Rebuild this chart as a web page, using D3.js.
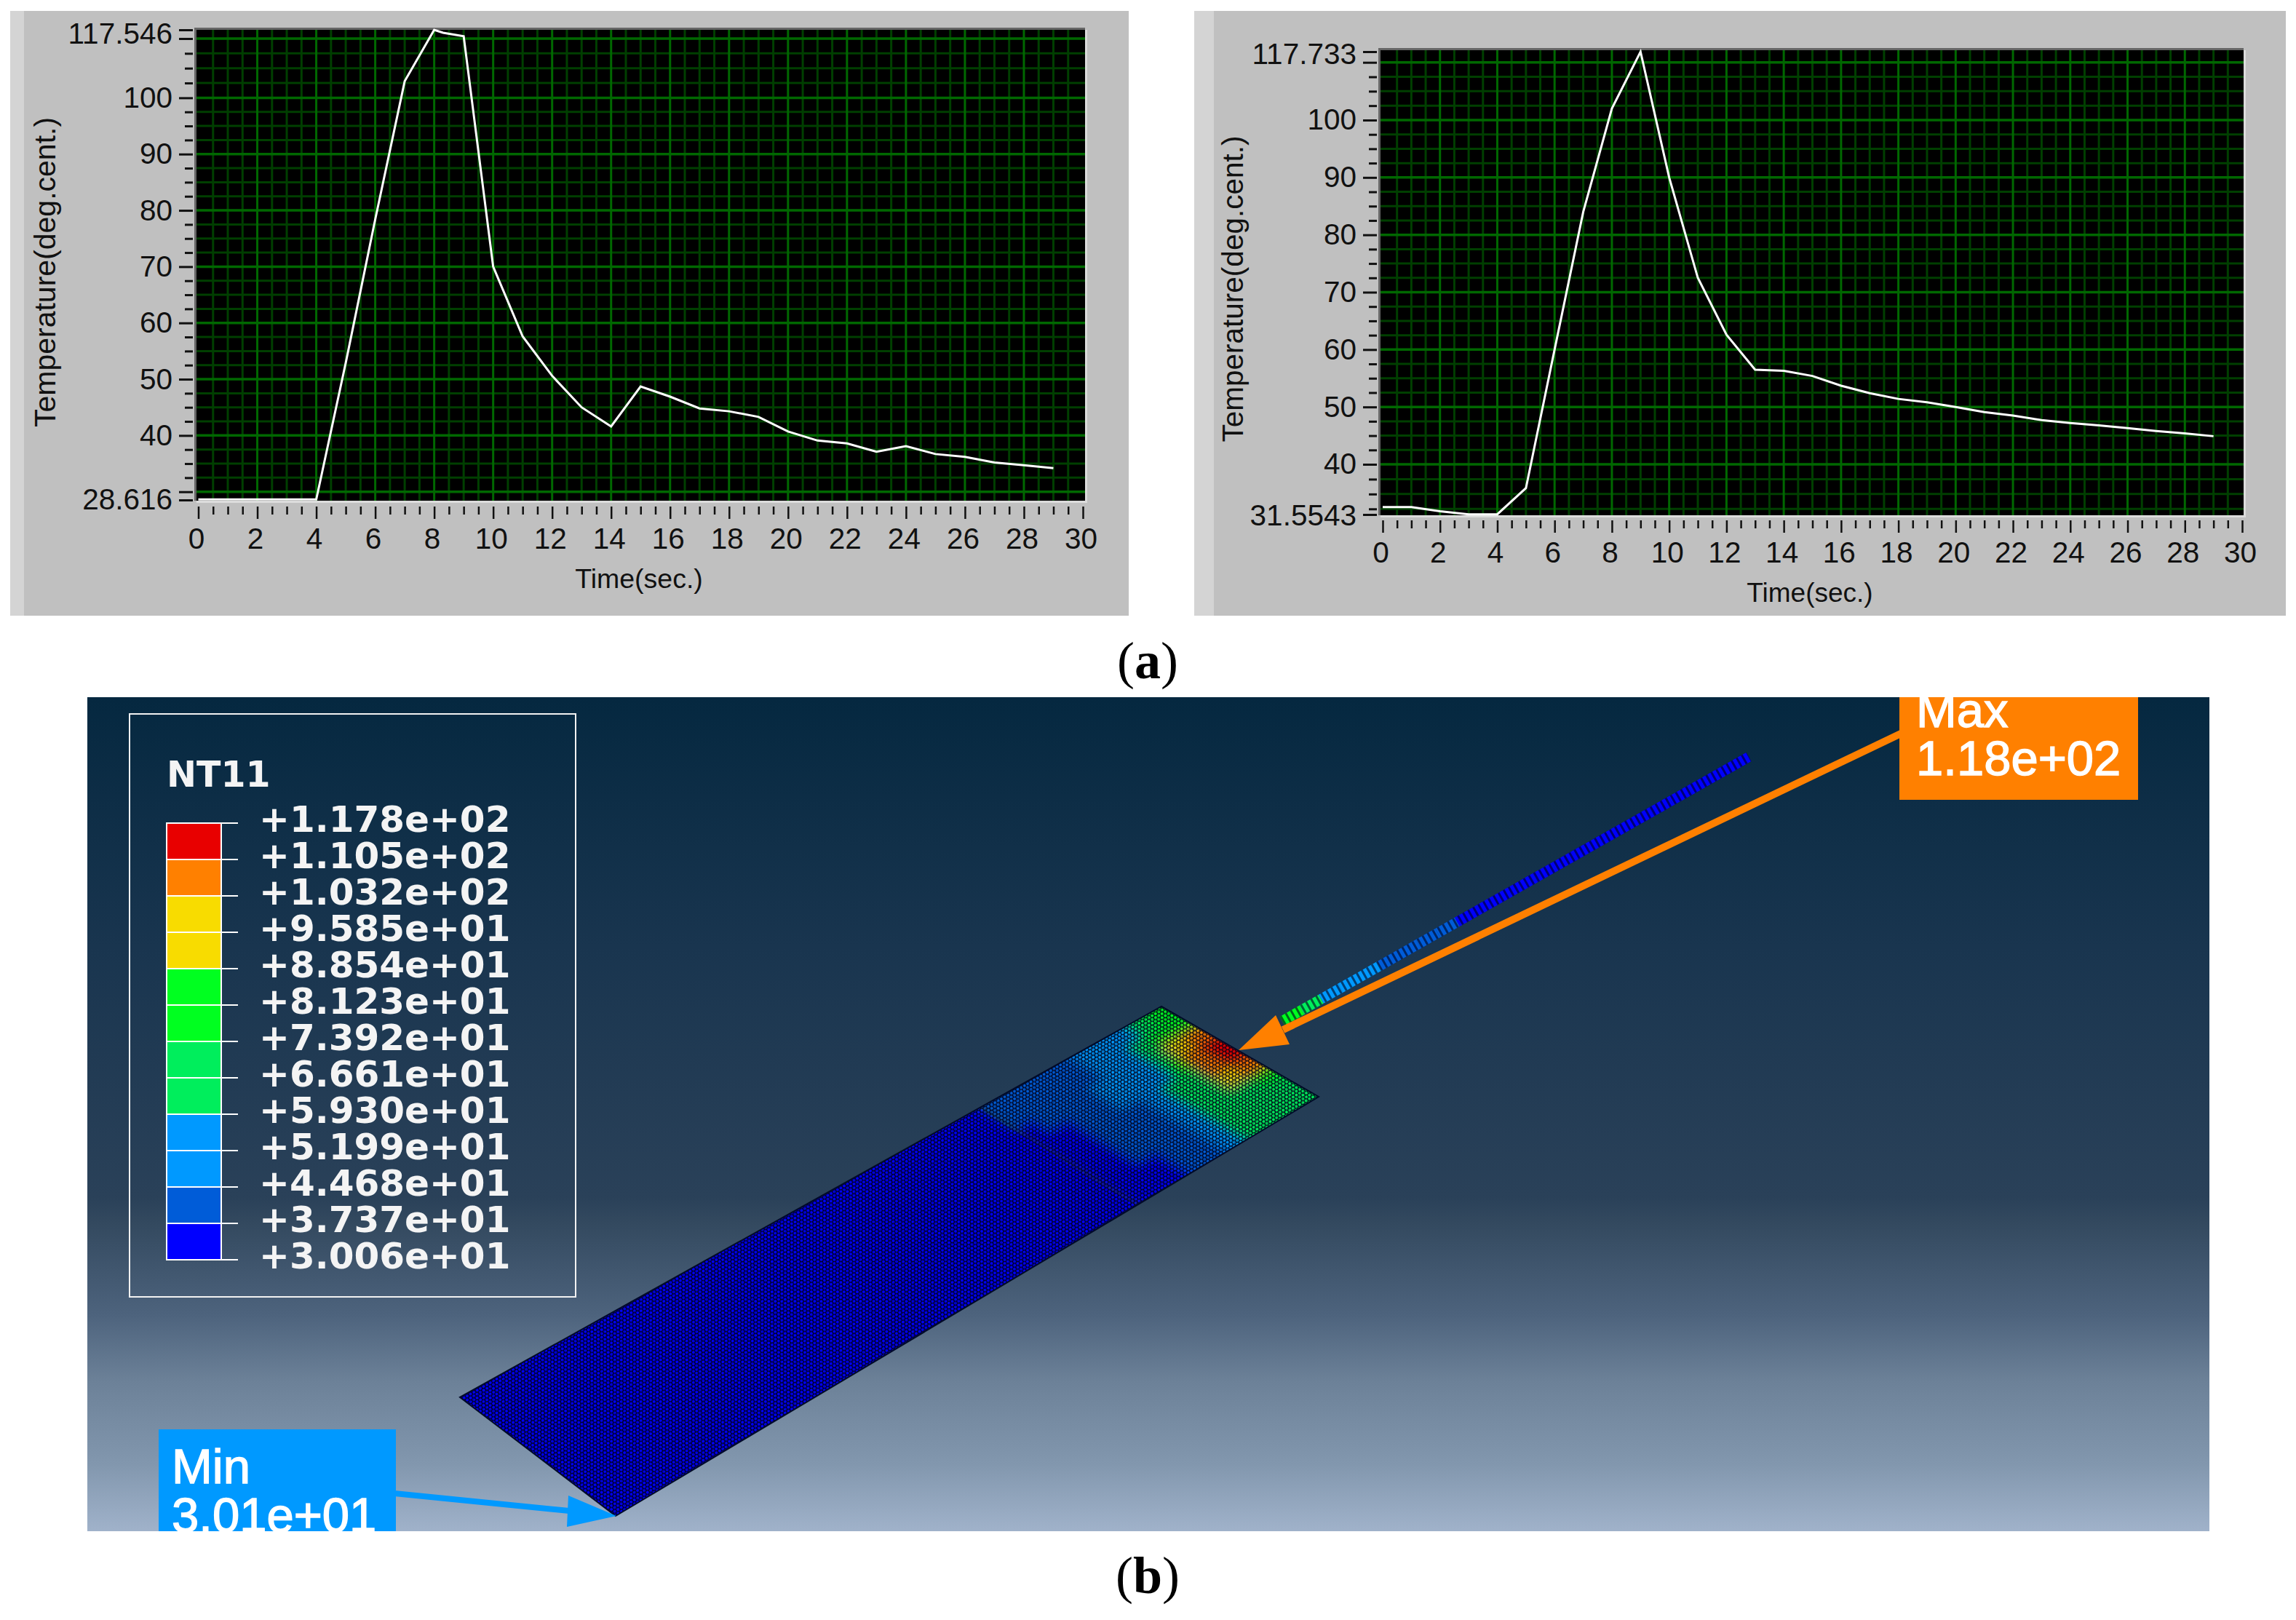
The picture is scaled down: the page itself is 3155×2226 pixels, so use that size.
<!DOCTYPE html>
<html>
<head>
<meta charset="utf-8">
<script src="https://cdn.jsdelivr.net/npm/d3@7"></script>
<style>
body { margin: 0; background: #fff; }
text { font-family: "Liberation Sans", Arial, sans-serif; }
</style>
</head>
<body>
<svg id="chart"></svg>
<script>
const width = 3155;
const height = 2226;

// temperature curves
const timesLeft = [0, 1, 2, 3, 4, 5, 6, 7, 8, 8.3, 9, 10, 11, 12, 13, 14, 15, 16, 17, 18, 19, 20, 21, 22, 23, 24, 25, 26, 27, 28, 29];
const tempsLeft = [28.7, 28.7, 28.7, 28.7, 28.7, 52.9, 78.4, 102.8, 117.5, 115, 112, 70, 57.6, 50.6, 45, 41.6, 48.7, 46.9, 44.8, 44.3, 43.3, 40.7, 39.1, 38.6, 37.1, 38.1, 36.7, 36.2, 35.2, 34.7, 34.2];
const timesRight = [0, 1, 2, 3, 4, 5, 6, 7, 8, 9, 10, 11, 12, 13, 14, 15, 16, 17, 18, 19, 20, 21, 22, 23, 24, 25, 26, 27, 28, 29];
const tempsRight = [32.8, 32.8, 32.1, 31.6, 31.6, 36, 60, 84, 102, 117.7, 90, 72.5, 62.6, 56.5, 56.3, 55.4, 53.7, 52.4, 51.4, 50.8, 50, 49.1, 48.5, 47.7, 47.2, 46.8, 46.3, 45.8, 45.4, 44.9];

const xMajor = [0, 2, 4, 6, 8, 10, 12, 14, 16, 18, 20, 22, 24, 26, 28, 30];
const xMinor = d3.range(0, 30.5, 0.5).filter(d => d % 2 !== 0);
const yMajorLeft = [30, 40, 50, 60, 70, 80, 90, 100, 110];
const yMajorRight = [40, 50, 60, 70, 80, 90, 100, 110];
const yMinorLeft = d3.range(30, 110, 2.5).filter(d => d % 10 !== 0);
const yMinorRight = d3.range(32.5, 110, 2.5).filter(d => d % 10 !== 0);
const yLabelled = [40, 50, 60, 70, 80, 90, 100];

// contour legend, top to bottom
const legendLabels = ['+1.178e+02', '+1.105e+02', '+1.032e+02', '+9.585e+01', '+8.854e+01', '+8.123e+01', '+7.392e+01', '+6.661e+01', '+5.930e+01', '+5.199e+01', '+4.468e+01', '+3.737e+01', '+3.006e+01'];
const legendValues = [117.8, 110.5, 103.2, 95.85, 88.54, 81.23, 73.92, 66.61, 59.30, 51.99, 44.68, 37.37, 30.06];
const cellColors = ['#e80000', '#ff8000', '#f8dc00', '#f8dc00', '#00ff20', '#00ff20', '#00ee5c', '#00ee5c', '#0099ff', '#0099ff', '#005cd8', '#0000ff'];

// plate temperatures in the heated end: rows across the plate, columns along it
const heatTemps = [
    [35, 36, 37, 40, 44, 50, 60, 64, 68, 70],
    [35, 36, 37, 40, 44, 50, 60, 64, 68, 72],
    [35, 36, 38, 41, 44, 50, 60, 66, 72, 82],
    [36, 37, 38, 41, 44, 50, 60, 70, 92, 104],
    [36, 37, 38, 41, 44, 50, 60, 72, 106, 112],
    [36, 37, 38, 42, 45, 50, 58, 74, 108, 117],
    [37, 38, 39, 42, 45, 50, 56, 70, 90, 104],
    [38, 39, 40, 42, 44, 48, 54, 64, 74, 80],
    [40, 40, 41, 42, 43, 46, 52, 58, 68, 74]
];
const coldTemp = 30.06;
// stick temperatures from the plate out to the free end
const rodTemps = [75, 60, 52, 50, 47, 44, 42, 40, 38, 36, 34, 32, 31, 31, 30, 30, 30, 30, 30, 30, 30, 30, 30, 30];

const svg = d3.select('#chart').attr('width', width).attr('height', height);
const defs = svg.append('defs');

function drawGraph(o) {
    const g = svg.append('g');
    g.append('rect').attr('x', o.left).attr('y', o.top).attr('width', o.right - o.left).attr('height', o.bottom - o.top).attr('fill', '#c0c0c0');
    g.append('rect').attr('x', o.left).attr('y', o.top).attr('width', o.band).attr('height', o.bottom - o.top).attr('fill', '#d4d4d4');

    const x = d3.scaleLinear().domain([0, 30]).range(o.xRange);
    const y = d3.scaleLinear().domain(o.yDomain).range(o.yRange);
    const [pl, pr, pt, pb] = o.plot;

    g.append('rect').attr('x', pl).attr('y', pt).attr('width', pr - pl).attr('height', pb - pt).attr('fill', '#000');

    // grid, minor lines first
    const grid = g.append('g');
    grid.append('g').selectAll('line').data(o.yMinor).join('line').attr('x1', pl).attr('x2', pr).attr('y1', y).attr('y2', y).attr('stroke', '#003f00').attr('stroke-width', 3);
    grid.append('g').selectAll('line').data(xMinor).join('line').attr('x1', x).attr('x2', x).attr('y1', pt).attr('y2', pb).attr('stroke', '#003f00').attr('stroke-width', 3);
    grid.append('g').selectAll('line').data(o.yMajor).join('line').attr('x1', pl).attr('x2', pr).attr('y1', y).attr('y2', y).attr('stroke', '#006800').attr('stroke-width', 3.5);
    grid.append('g').selectAll('line').data(xMajor.slice(1, -1)).join('line').attr('x1', x).attr('x2', x).attr('y1', pt).attr('y2', pb).attr('stroke', '#006800').attr('stroke-width', 3);

    // bevel round the plot
    g.append('path').attr('d', `M${pl - 1.5},${pb} V${pt - 1.5} H${pr}`).attr('fill', 'none').attr('stroke', '#666').attr('stroke-width', 3);
    g.append('path').attr('d', `M${pl},${pb + 1.5} H${pr + 1.5} V${pt}`).attr('fill', 'none').attr('stroke', '#dcdcdc').attr('stroke-width', 3);

    const line = d3.line().x((d, i) => x(o.times[i])).y(d => y(d));
    g.append('path').datum(o.temps).attr('d', line).attr('fill', 'none').attr('stroke', '#fff').attr('stroke-width', 3);

    // y axis
    const yMajorAxis = d3.axisLeft(y).tickValues([...o.yMajor, o.yDomain[0], o.yDomain[o.yDomain.length - 1]])
        .tickSize(19).tickPadding(9)
        .tickFormat(d => yLabelled.includes(d) ? d : (d === o.yDomain[0] ? o.bottomLabel : (d === o.yDomain[o.yDomain.length - 1] ? o.topLabel : '')));
    const yAxisG = g.append('g').attr('transform', `translate(${o.yAxisX},0)`).call(yMajorAxis);
    const yMinorG = g.append('g').attr('transform', `translate(${o.yAxisX},0)`).call(d3.axisLeft(y).tickValues(o.yMinor).tickSize(11).tickFormat(''));

    // x axis
    const xAxisG = g.append('g').attr('transform', `translate(0,${o.xAxisY})`).call(d3.axisBottom(x).tickValues(xMajor).tickSize(17));
    const xMinorG = g.append('g').attr('transform', `translate(0,${o.xAxisY})`).call(d3.axisBottom(x).tickValues(xMinor).tickSize(11).tickFormat(''));

    [yAxisG, yMinorG, xAxisG, xMinorG].forEach(a => {
        a.select('.domain').remove();
        a.selectAll('text').attr('fill', '#111').style('font-size', '40.5px').style('font-family', '"Liberation Sans", Arial, sans-serif');
    });
    [yAxisG, yMinorG].forEach(a => a.selectAll('line').attr('stroke', '#111').attr('stroke-width', 3));
    [xAxisG, xMinorG].forEach(a => a.selectAll('line').attr('stroke', '#111').attr('stroke-width', 2.5));
    // the end labels sit a little off their tick marks
    yAxisG.selectAll('text').filter(d => d === o.yDomain[o.yDomain.length - 1]).attr('dy', o.topDy);
    yAxisG.selectAll('text').filter(d => d === o.yDomain[0]).attr('dy', o.bottomDy);
    xAxisG.selectAll('text').attr('y', 58).attr('dy', 0).attr('dx', -3);

    g.append('text').attr('x', o.xLabelX).attr('y', o.xLabelY).attr('text-anchor', 'middle').attr('font-size', o.xLabelSize).attr('fill', '#111').text('Time(sec.)');
    g.append('text').attr('transform', `translate(${o.yLabelX},${o.yLabelY}) rotate(-90)`).attr('text-anchor', 'middle').attr('font-size', o.yLabelSize).attr('fill', '#111').text('Temperature(deg.cent.)');
}

drawGraph({
    left: 14, right: 1551, top: 15, bottom: 846, band: 19,
    plot: [270, 1491, 41, 688],
    xRange: [272.5, 1488],
    yDomain: [28.616, 30, 100, 110, 117.546], yRange: [687, 675.7, 134.4, 53, 41],
    yMajor: yMajorLeft, yMinor: yMinorLeft,
    times: timesLeft, temps: tempsLeft,
    yAxisX: 265, xAxisY: 696,
    topLabel: '117.546', bottomLabel: '28.616', topDy: '0.45em', bottomDy: '0.3em',
    xLabelX: 878, xLabelY: 808, xLabelSize: 37.5,
    yLabelX: 76, yLabelY: 374, yLabelSize: 41
});
drawGraph({
    left: 1641, right: 3141, top: 15, bottom: 846, band: 27,
    plot: [1897, 3083, 69, 708],
    xRange: [1900, 3081],
    yDomain: [31.5543, 40, 100, 110, 117.733], yRange: [707, 638, 165, 85.7, 71],
    yMajor: yMajorRight, yMinor: yMinorRight,
    times: timesRight, temps: tempsRight,
    yAxisX: 1892, xAxisY: 715,
    topLabel: '117.733', bottomLabel: '31.5543', topDy: '0.4em', bottomDy: '0.35em',
    xLabelX: 2487, xLabelY: 827, xLabelSize: 37,
    yLabelX: 1708, yLabelY: 397, yLabelSize: 40.5
});

// sub-figure captions
function caption(letter, y) {
    const t = svg.append('text').attr('x', 1577).attr('y', y).attr('text-anchor', 'middle').attr('font-size', 72).attr('fill', '#000').style('font-family', '"Liberation Serif", serif');
    t.append('tspan').text('(');
    t.append('tspan').attr('font-weight', 'bold').text(letter);
    t.append('tspan').text(')');
}
caption('a', 932);
caption('b', 2189);

// FE result viewport
const vp = { x: 120, y: 958, w: 2916, h: 1146 };
const bgStops = [
    [0, '#052840'], [0.30, '#19354f'], [0.60, '#2a4159'], [0.63, '#33495f'],
    [0.74, '#4d637d'], [0.82, '#6c8198'], [0.92, '#8297ae'], [1, '#a0b2ca']
];
const bg = defs.append('linearGradient').attr('id', 'vpBg').attr('x1', 0).attr('x2', 0).attr('y1', 0).attr('y2', 1);
bg.selectAll('stop').data(bgStops).join('stop').attr('offset', d => d[0]).attr('stop-color', d => d[1]);
defs.append('clipPath').attr('id', 'vpClip').append('rect').attr('x', vp.x).attr('y', vp.y).attr('width', vp.w).attr('height', vp.h);

const scene = svg.append('g').attr('clip-path', 'url(#vpClip)');
scene.append('rect').attr('x', vp.x).attr('y', vp.y).attr('width', vp.w).attr('height', vp.h).attr('fill', 'url(#vpBg)');

// plate corners on screen; u runs along the plate, v across it
const corners = { a: [846, 2083], b: [632, 1920], c: [1596, 1383], d: [1812, 1507] };
const nearX = d3.scaleLinear().domain([0, 1]).range([corners.a[0], corners.d[0]]);
const nearY = d3.scaleLinear().domain([0, 1]).range([corners.a[1], corners.d[1]]);
const farX = d3.scaleLinear().domain([0, 1]).range([corners.b[0], corners.c[0]]);
const farY = d3.scaleLinear().domain([0, 1]).range([corners.b[1], corners.c[1]]);
const plate = (u, v) => [nearX(u) + (farX(u) - nearX(u)) * v, nearY(u) + (farY(u) - nearY(u)) * v];
const quad = (u0, u1, v0, v1) => 'M' + [plate(u0, v0), plate(u1, v0), plate(u1, v1), plate(u0, v1)].map(p => p.join(',')).join('L') + 'Z';

const tempColor = d3.scaleThreshold().domain(legendValues.slice(1, -1).reverse()).range(cellColors.slice().reverse());

defs.append('clipPath').attr('id', 'plateClip').append('path').attr('d', quad(0, 1, 0, 1));
defs.append('filter').attr('id', 'soft').attr('x', '-5%').attr('y', '-5%').attr('width', '110%').attr('height', '110%')
    .append('feGaussianBlur').attr('stdDeviation', 7);

// element lattice: dark sheet with staggered round holes, the nodes show through
function latticePattern(id, w, h, r, angle, alpha) {
    const hole = (cx, cy) => `M${cx - r},${cy}a${r},${r} 0 1,0 ${2 * r},0a${r},${r} 0 1,0 ${-2 * r},0Z`;
    const p = defs.append('pattern').attr('id', id).attr('patternUnits', 'userSpaceOnUse')
        .attr('width', w).attr('height', h).attr('patternTransform', `rotate(${angle})`);
    p.append('path').attr('fill-rule', 'evenodd').attr('fill', '#000014').attr('fill-opacity', alpha)
        .attr('d', `M0,0H${w}V${h}H0Z` + hole(w / 2, h / 4) + hole(0, h * 3 / 4) + hole(w, h * 3 / 4));
}
latticePattern('meshA', 5.2, 9, 2.05, -30, 0.9);
latticePattern('meshB', 7.7, 13.1, 3.2, 13, 0.25);

const plateG = scene.append('g').attr('clip-path', 'url(#plateClip)');
const uSplit = 0.74;
const cols = heatTemps[0].length;
const rows = heatTemps.length;
const uScale = d3.scaleLinear().domain([0, cols]).range([uSplit, 1]);
const vScale = d3.scaleLinear().domain([0, rows]).range([0, 1]);

plateG.append('path').attr('d', quad(0, uSplit, 0, 1)).attr('fill', tempColor(coldTemp));
const heatG = plateG.append('g').attr('filter', 'url(#soft)');
const heatCells = heatTemps.flatMap((row, r) => row.map((t, c) => ({ r, c, t })));
heatG.selectAll('path').data(heatCells).join('path')
    .attr('d', d => quad(
        uScale(d.c), d.c === cols - 1 ? 1.03 : uScale(d.c + 1) + 0.001,
        d.r === 0 ? -0.06 : vScale(d.r), d.r === rows - 1 ? 1.06 : vScale(d.r + 1) + 0.001))
    .attr('fill', d => tempColor(d.t));
plateG.append('path').attr('d', quad(0, 1, 0, 1)).attr('fill', 'url(#meshA)');
plateG.append('path').attr('d', quad(0, 1, 0, 1)).attr('fill', 'url(#meshB)');
scene.append('path').attr('d', quad(0, 1, 0, 1)).attr('fill', 'none').attr('stroke', '#000a28').attr('stroke-width', 2);

// heated stick
const rodFrom = [1762, 1403], rodTo = [2403, 1040];
const rodX = d3.scaleLinear().domain([0, rodTemps.length]).range([rodFrom[0], rodTo[0]]);
const rodY = d3.scaleLinear().domain([0, rodTemps.length]).range([rodFrom[1], rodTo[1]]);
scene.append('g').selectAll('line').data(rodTemps).join('line')
    .attr('x1', (d, i) => rodX(i)).attr('y1', (d, i) => rodY(i))
    .attr('x2', (d, i) => rodX(i + 1)).attr('y2', (d, i) => rodY(i + 1))
    .attr('stroke', d => tempColor(d)).attr('stroke-width', 14);
scene.append('line').attr('x1', rodFrom[0]).attr('y1', rodFrom[1]).attr('x2', rodTo[0]).attr('y2', rodTo[1])
    .attr('stroke', '#000018').attr('stroke-opacity', 0.6).attr('stroke-width', 14).attr('stroke-dasharray', '3 5');

// Max / Min call-outs
function callout(o) {
    scene.append('line').attr('x1', o.from[0]).attr('y1', o.from[1]).attr('x2', o.neck[0]).attr('y2', o.neck[1]).attr('stroke', o.color).attr('stroke-width', o.lw);
    scene.append('path').attr('d', 'M' + o.head.map(p => p.join(',')).join('L') + 'Z').attr('fill', o.color);
    scene.append('rect').attr('x', o.box[0]).attr('y', o.box[1]).attr('width', o.box[2]).attr('height', o.box[3]).attr('fill', o.color);
    o.lines.forEach((s, i) => {
        scene.append('text').attr('x', o.textX).attr('y', o.baselines[i]).attr('font-size', 67).attr('fill', '#fff')
            .attr('stroke', '#fff').attr('stroke-width', 1.4).text(s);
    });
}
callout({
    color: '#ff8000', lw: 10, from: [2612, 1008], neck: [1763, 1415],
    head: [[1702, 1443], [1753, 1395], [1772, 1435]],
    box: [2610, 940, 328, 159], textX: 2633, baselines: [999, 1065],
    lines: ['Max', '1.18e+02']
});
callout({
    color: '#0099ff', lw: 8, from: [542, 2052], neck: [782, 2076],
    head: [[847, 2083], [781, 2055], [779, 2098]],
    box: [218, 1964, 326, 160], textX: 236, baselines: [2038, 2105],
    lines: ['Min', '3.01e+01']
});

// contour legend
const legend = scene.append('g');
legend.append('rect').attr('x', 178).attr('y', 981).attr('width', 613).attr('height', 801).attr('fill', 'none').attr('stroke', '#f2f2f2').attr('stroke-width', 2);
legend.append('text').attr('x', 229).attr('y', 1081).attr('font-size', 49).attr('font-weight', 'bold').attr('fill', '#f4f4f4').style('font-family', '"DejaVu Sans", sans-serif').text('NT11');

const legendY = d3.scalePoint().domain(legendLabels).range([1131, 1731]);
legend.append('g').selectAll('rect').data(cellColors).join('rect')
    .attr('x', 229).attr('y', (d, i) => legendY(legendLabels[i])).attr('width', 75).attr('height', legendY.step())
    .attr('fill', d => d).attr('stroke', '#fff').attr('stroke-width', 2);
legend.append('g').selectAll('line').data(legendLabels).join('line')
    .attr('x1', 304).attr('x2', 327).attr('y1', d => legendY(d)).attr('y2', d => legendY(d))
    .attr('stroke', '#fff').attr('stroke-width', 2);
legend.append('g').selectAll('text').data(legendLabels).join('text')
    .attr('x', 356).attr('y', d => legendY(d) + 12).attr('font-size', 50).attr('font-weight', 'bold')
    .attr('fill', '#f4f4f4').style('font-family', '"DejaVu Sans", sans-serif').text(d => d);
</script>
</body>
</html>
